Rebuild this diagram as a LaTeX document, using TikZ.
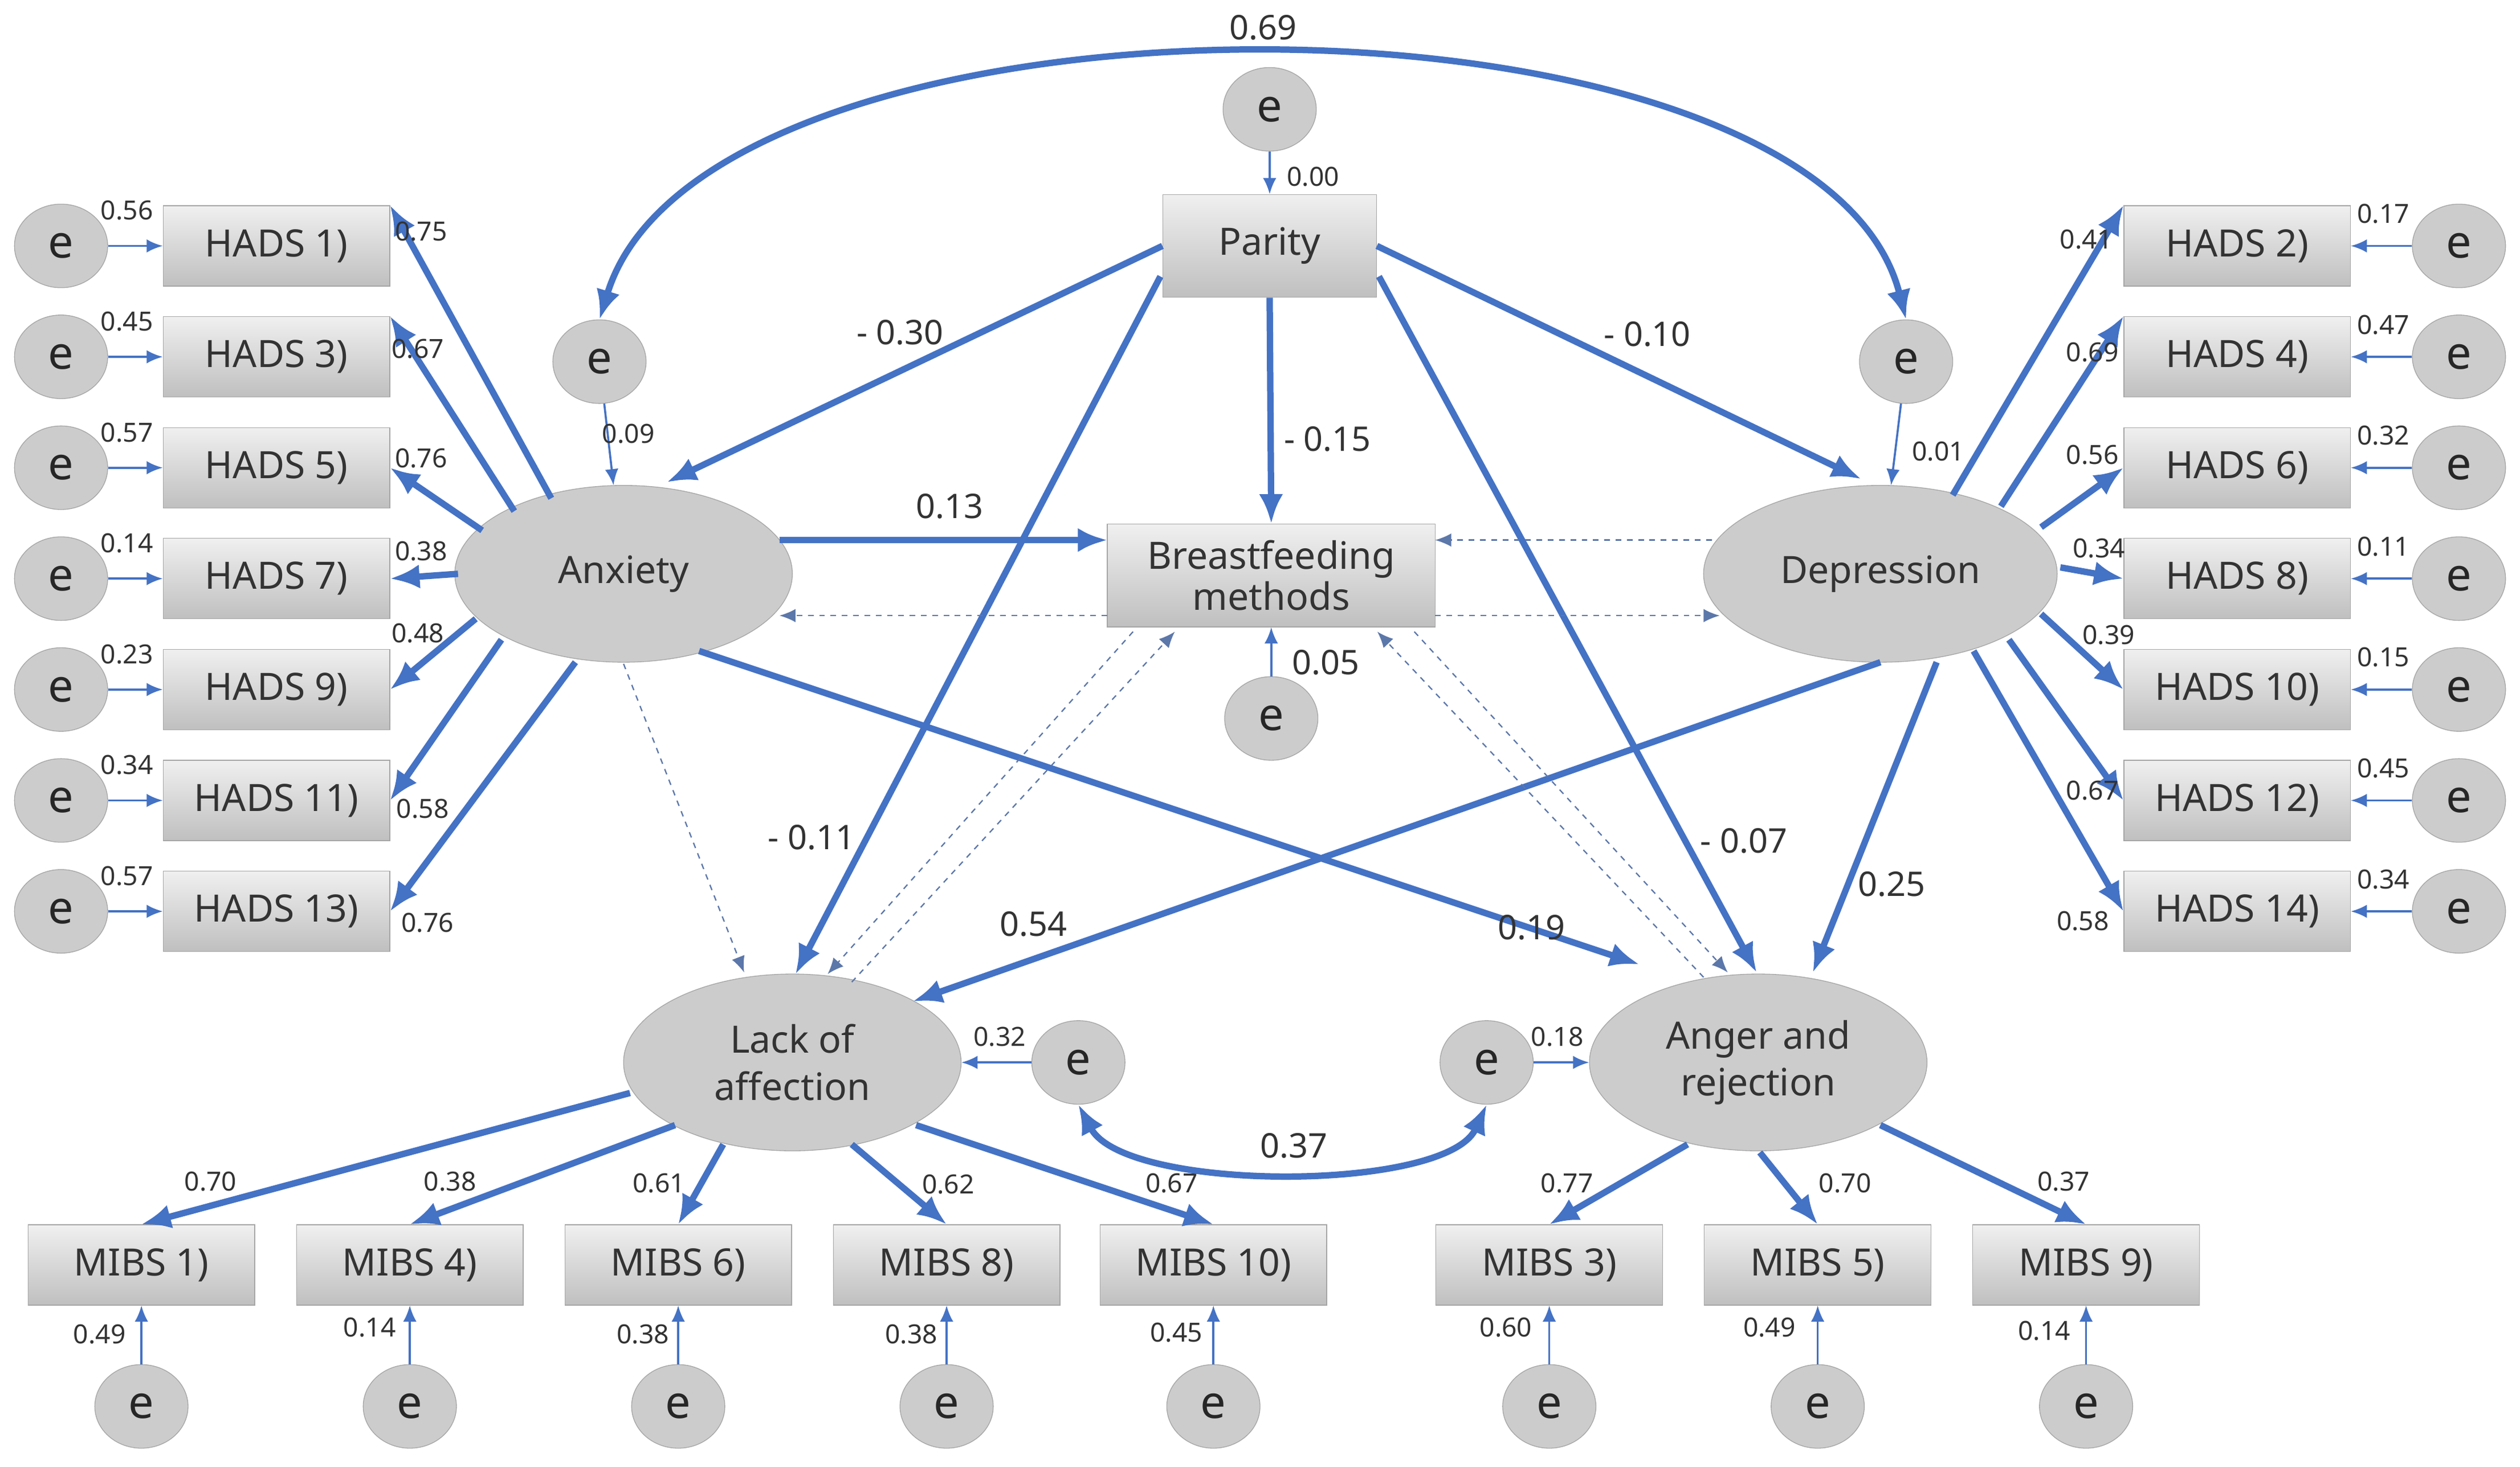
\documentclass[tikz,border=0pt]{standalone}
\usepackage{fontspec}
\setmainfont{Noto Sans}
\usetikzlibrary{arrows.meta,calc,shapes.geometric}
\definecolor{bl}{HTML}{4472C4}
\begin{document}
\begin{tikzpicture}[x=0.03cm,y=-0.03cm,
 box/.style={draw=gray!70,top color=gray!12,bottom color=gray!50,minimum width=4.23cm,minimum height=1.5cm,inner sep=0pt,font=\fontsize{20}{22}\selectfont,text=black!80},
 ee/.style={ellipse,draw=gray!70,fill=gray!40,minimum width=1.74cm,minimum height=1.56cm,inner sep=0pt,font=\fontsize{24}{26}\selectfont,text=black!85},
 lat/.style={ellipse,draw=gray!70,fill=gray!40,minimum width=6.3cm,minimum height=3.3cm,inner sep=0pt,align=center,font=\fontsize{20}{25}\selectfont,text=black!80},
 th/.style={draw=bl,line width=3.4pt,-{Latex[length=5.5mm,width=4.5mm]}},
 tn/.style={draw=bl,line width=1.1pt,-{Latex[length=3mm,width=2.5mm]}},
 da/.style={draw=gray!40!bl,line width=0.7pt,dashed,-{Latex[length=3mm,width=2.5mm]}},
 sl/.style={font=\fontsize{14}{16}\selectfont,text=black!80,inner sep=0pt},
 bg/.style={font=\fontsize{18}{20}\selectfont,text=black!80,inner sep=0pt}]
\useasboundingbox (0,0) rectangle (1568,912.4);
% left HADS
\foreach \n/\y/\lab/\t/\ta in {1/153/0.56/1)/0.75,3/222/0.45/3)/0.67,5/291/0.57/5)/0.76,7/360/0.14/7)/0.38,9/429/0.23/9)/0.48,11/498/0.34/11)/0.58,13/567/0.57/13)/0.76}{
 \node[box] (h\n) at (172,\y) {HADS \t};
 \node[ee] (eh\n) at (38,\y) {e};
 \draw[tn] (eh\n) -- (h\n);
 \node[sl] (lh\n) at (79,\y-22) {\lab};
}
\foreach \n/\y/\lab/\t in {2/153/0.17/2),4/222/0.47/4),6/291/0.32/6),8/360/0.11/8),10/429/0.15/10),12/498/0.45/12),14/567/0.34/14)}{
 \node[box] (h\n) at (1392,\y) {HADS \t};
 \node[ee] (eh\n) at (1530,\y) {e};
 \draw[tn] (eh\n) -- (h\n);
 \node[sl] (lh\n) at (1483,\y-20) {\lab};
}
\node[box,minimum width=3.99cm,minimum height=1.92cm] (pa) at (790,153) {Parity};
\node[ee] (epa) at (790,68) {e};
\node[box,minimum width=6.12cm,minimum height=1.92cm,align=center] (bf) at (791,358) {Breastfeeding\\methods};
\node[ee] (ebf) at (791,447) {e};
\node[lat] (anx) at (388,357) {Anxiety};
\node[lat,minimum width=6.6cm] (dep) at (1170,357) {Depression};
\node[ee] (ea) at (373,225) {e};
\node[ee] (ed) at (1186,225) {e};
\node[lat] (lack) at (493,661) {Lack of\\affection};
\node[lat] (ang) at (1094,661) {Anger and\\rejection};
\node[ee] (el) at (671,661) {e};
\node[ee] (eg) at (925,661) {e};
\foreach \n/\x/\t/\l/\lx/\ly in {1/88/1)/0.49/62/830,4/255/4)/0.14/230/826,6/422/6)/0.38/400/830,8/589/8)/0.38/567/830,10/755/10)/0.45/732/829,3/964/3)/0.60/937/826,5/1131/5)/0.49/1101/826,9/1298/9)/0.14/1272/828}{
 \node[box] (m\n) at (\x,787) {MIBS \t};
 \node[ee] (em\n) at (\x,875) {e};
 \draw[tn] (em\n) -- (m\n);
 \node[sl] (lm\n) at (\lx,\ly) {\l};
}
% e arrows
\draw[tn] (epa) -- (pa);
\draw[tn] (ea) -- (anx);
\draw[tn] (ed) -- (dep);
\draw[tn] (ebf) -- (bf);
\draw[tn] (el) -- (lack);
\draw[tn] (eg) -- (ang);
% left loadings
\draw[th] ($(anx)+(-45,-47)$) -- (h1.north east);
\draw[th] ($(anx)+(-68,-39)$) -- (h3.north east);
\draw[th] ($(anx)+(-88,-27)$) -- (h5.east);
\draw[th] ($(anx)+(-103,0)$) -- (h7.east);
\draw[th] ($(anx)+(-92,28)$) -- (h9.east);
\draw[th] ($(anx)+(-76,41)$) -- (h11.east);
\draw[th] ($(anx)+(-30,55)$) -- (h13.east);
\foreach \n/\x/\y/\t in {a/262/144/0.75,b/260/217/0.67,c/262/285/0.76,d/262/343/0.38,e/260/394/0.48,f/263/503/0.58,g/266/574/0.76}{\node[sl] (ll\n) at (\x,\y) {\t};}
% right loadings
\draw[th] ($(dep)+(45,-49)$) -- (h2.north west);
\draw[th] ($(dep)+(75,-42)$) -- (h4.north west);
\draw[th] ($(dep)+(100,-29)$) -- (h6.west);
\draw[th] ($(dep)+(112,-4)$) -- (h8.west);
\draw[th] ($(dep)+(100,25)$) -- (h10.west);
\draw[th] ($(dep)+(80,41)$) -- (h12.west);
\draw[th] ($(dep)+(58,48)$) -- (h14.west);
\foreach \n/\x/\y/\t in {a/1298/149/0.41,b/1302/219/0.69,c/1302/283/0.56,d/1306/341/0.34,e/1312/395/0.39,f/1302/492/0.67,g/1296/573/0.58}{\node[sl] (lr\n) at (\x,\y) {\t};}
% MIBS loadings
\draw[th] ($(lack)+(-101,19)$) -- (m1.north);
\draw[th] ($(lack)+(-73,39)$) -- (m4.north);
\draw[th] ($(lack)+(-43,51)$) -- (m6.north);
\draw[th] ($(lack)+(37,51)$) -- (m8.north);
\draw[th] ($(lack)+(77,39)$) -- (m10.north);
\draw[th] ($(ang)+(-44,51)$) -- (m3.north);
\draw[th] ($(ang)+(1,56)$) -- (m5.north);
\draw[th] ($(ang)+(76,39)$) -- (m9.north);
\foreach \n/\x/\y/\t in {a/131/735/0.70,b/280/735/0.38,c/410/736/0.61,d/590/737/0.62,e/729/736/0.67,f/975/736/0.77,g/1148/736/0.70,h/1284/735/0.37}{\node[sl] (lb\n) at (\x,\y) {\t};}
% structural
\draw[th] (pa.west) -- ($(anx)+(27,-57)$);
\draw[th] (pa.east) -- ($(dep)+(-12,-59)$);
\draw[th] (pa.south) -- (bf.north);
\draw[th] ($(pa)+(-68,19)$) -- ($(lack)+(2,-55)$);
\draw[th] ($(pa)+(68,19)$) -- ($(ang)+(-1,-56)$);
\draw[th] ($(anx)+(97,-21)$) -- ($(bf)+(-102,-22)$);
\draw[th] ($(anx)+(47,48)$) -- ($(ang)+(-74,-61)$);
\draw[th] ($(dep)+(0,55)$) -- ($(lack)+(75,-38)$);
\draw[th] ($(dep)+(35,55)$) -- ($(ang)+(34,-56)$);
% dashed
\draw[da] ($(bf)+(-102,25)$) -- ($(anx)+(97,26)$);
\draw[da] ($(dep)+(-105,-21)$) -- ($(bf)+(102,-22)$);
\draw[da] ($(bf)+(102,25)$) -- ($(dep)+(-100,26)$);
\draw[da] ($(anx)+(0,56)$) -- ($(lack)+(-30,-56)$);
\draw[da] ($(lack)+(37,-50)$) -- ($(bf)+(-60,35)$);
\draw[da] ($(bf)+(-86,35)$) -- ($(lack)+(22,-55)$);
\draw[da] ($(bf)+(89,35)$) -- ($(ang)+(-19,-56)$);
\draw[da] ($(ang)+(-34,-53)$) -- ($(bf)+(66,35)$);
% covariances
\draw[draw=bl,line width=3.4pt,{Latex[length=5.5mm,width=4.5mm]}-{Latex[length=5.5mm,width=4.5mm]}] (ea.north) .. controls (440,-20) and (1130,-20) .. (ed.north);
\draw[draw=bl,line width=3.4pt,{Latex[length=5.5mm,width=4.5mm]}-{Latex[length=5.5mm,width=4.5mm]}] (el.south) .. controls (700,742) and (900,742) .. (eg.south);
% labels
\node[bg] (c1) at (786,17) {0.69};
\node[bg] (c2) at (805,713) {0.37};
\node[sl] (s1) at (817,110) {0.00};
\node[sl] (s2) at (391,270) {0.09};
\node[sl] (s3) at (1206,281) {0.01};
\node[bg] (s4) at (825,412) {0.05};
\node[sl] (s5) at (622,645) {0.32};
\node[sl] (s6) at (969,645) {0.18};
\node[bg] (p1) at (560,207) {- 0.30};
\node[bg] (p2) at (1025,208) {- 0.10};
\node[bg] (p3) at (826,273) {- 0.15};
\node[bg] (p4) at (505,521) {- 0.11};
\node[bg] (p5) at (1085,523) {- 0.07};
\node[bg] (p6) at (591,315) {0.13};
\node[bg] (p7) at (953,577) {0.19};
\node[bg] (p8) at (643,575) {0.54};
\node[bg] (p9) at (1177,550) {0.25};
\end{tikzpicture}
\end{document}
